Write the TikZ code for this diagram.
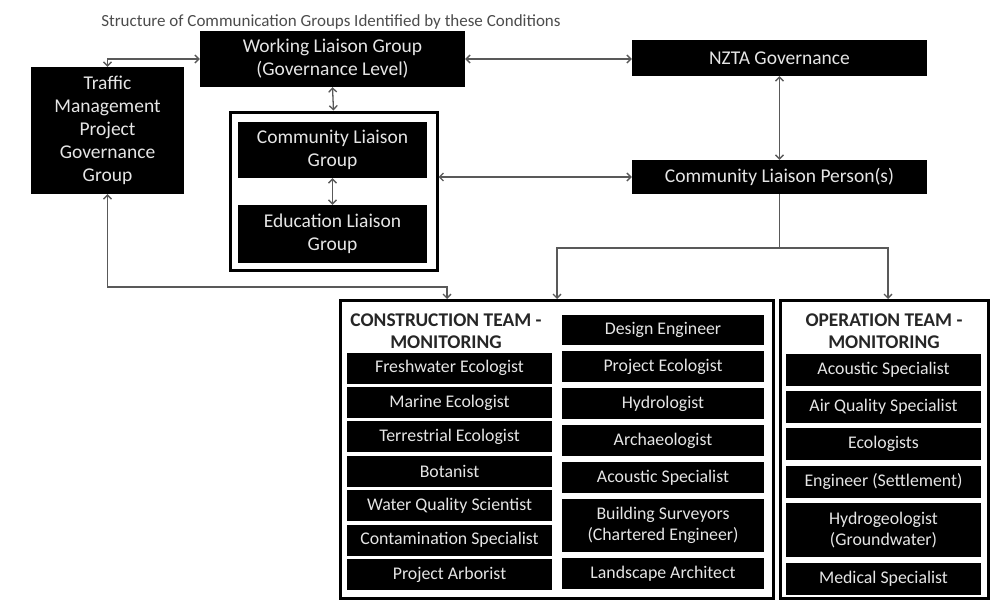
\documentclass[tikz,border=0pt]{standalone}
\usepackage{fontspec}
\setmainfont{Carlito}
\usetikzlibrary{arrows.meta}
\tikzset{
 blk/.style={fill=black, text=white!90!black, align=center, inner sep=0pt, font=\fontsize{19.5}{23}\selectfont},
 role/.style={blk, font=\fontsize{17.8}{21}\selectfont},
 frame/.style={draw=black, line width=3pt, fill=white, inner sep=0pt},
 head/.style={align=center, text=black!85, font=\bfseries\fontsize{19.4}{22}\selectfont},
 link/.style={draw=black!65, line width=1.3pt, >={Straight Barb[length=4pt,width=8pt]}},
}
\begin{document}
\begin{tikzpicture}[x=1pt,y=-1pt]
\useasboundingbox (0,0) rectangle (990,602);
\node[text=black!70, font=\fontsize{17}{20}\selectfont] (title) at (331,22) {Structure of Communication Groups Identified by these Conditions};
% governance level
\node[blk, minimum width=265pt, minimum height=56pt] (wlg) at (332.5,59) {Working Liaison Group\\(Governance Level)};
\node[blk, minimum width=153pt, minimum height=127pt] (tmp) at (107.5,130.5) {Traffic\\Management\\Project\\Governance\\Group};
\node[blk, minimum width=295pt, minimum height=36pt] (nzta) at (779.5,58) {NZTA Governance};
\node[blk, minimum width=295pt, minimum height=34pt] (clp) at (779.5,177) {Community Liaison Person(s)};
\node[frame, minimum width=207pt, minimum height=158pt] (grp) at (333.5,191) {};
\node[blk, minimum width=189pt, minimum height=56pt] (clg) at (332.5,150) {Community Liaison\\Group};
\node[blk, minimum width=189pt, minimum height=58pt] (elg) at (332.5,234) {Education Liaison\\Group};
% teams
\node[frame, minimum width=433pt, minimum height=298pt] (ctm) at (556.5,449) {};
\node[frame, minimum width=208pt, minimum height=298pt] (otm) at (884,449) {};
\node[head] (cthead) at (446,331) {CONSTRUCTION TEAM -\\MONITORING};
\node[head] (othead) at (884,331) {OPERATION TEAM -\\MONITORING};
\foreach \name [count=\i] in {Freshwater Ecologist, Marine Ecologist, Terrestrial Ecologist, Botanist, Water Quality Scientist, Contamination Specialist, Project Arborist}
 \node[role, minimum width=205pt, minimum height=31pt] (cl\i) at (449.5,{333.6+34.4*\i}) {\name};
\foreach \yy/\hh/\name [count=\i] in {330/30/Design Engineer, 366.5/31/Project Ecologist, 403.5/31/Hydrologist, 440.5/31/Archaeologist, 477.5/31/Acoustic Specialist, 525.5/53/{Building Surveyors\\(Chartered Engineer)}, 573.5/31/Landscape Architect}
 \node[role, minimum width=202pt, minimum height=\hh pt] (cr\i) at (663,\yy) {\name};
\foreach \yy/\hh/\name [count=\i] in {370/32/Acoustic Specialist, 407/32/Air Quality Specialist, 444/32/Ecologists, 482/32/Engineer (Settlement), 530/54/{Hydrogeologist\\(Groundwater)}, 579/32/Medical Specialist}
 \node[role, minimum width=195pt, minimum height=\hh pt] (op\i) at (883.5,\yy) {\name};
% connectors
\coordinate (tmpbend) at (447,287);
\coordinate (ctin) at (447,299);
\coordinate (split) at (779.5,248);
\coordinate (ctin2) at (557,299);
\coordinate (otin) at (888,299);
\draw[link,<->] (wlg.west) -| (tmp.north);
\draw[link,<->] (wlg.east) -- (wlg.east -| nzta.west);
\draw[link,<->] (wlg.south) -- (grp.north);
\draw[link,<->] (clg.south) -- (elg.north);
\draw[link,<->] (nzta.south) -- (clp.north);
\draw[link,<->] (clp.west -| grp.east) -- (clp.west);
\draw[link,<->] (tmp.south) |- (tmpbend) -- (ctin);
\draw[link] (clp.south) -- (split);
\draw[link,->] (split) -| (ctin2);
\draw[link,->] (split) -| (otin);
\end{tikzpicture}
\end{document}
